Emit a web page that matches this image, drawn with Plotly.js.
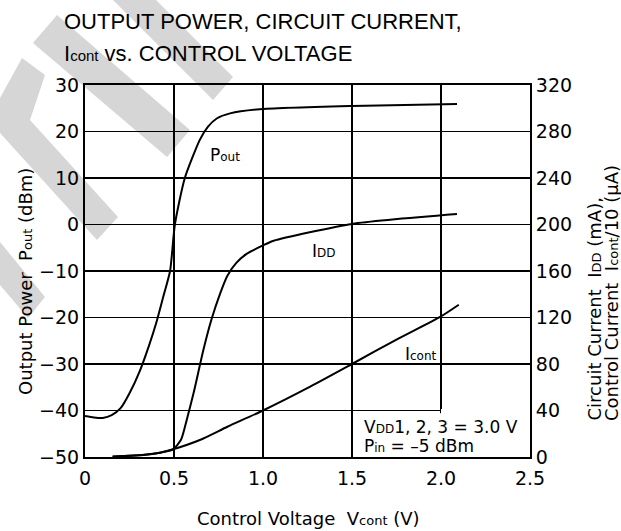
<!DOCTYPE html>
<html>
<head>
<meta charset="utf-8">
<script src="https://cdn.plot.ly/plotly-3.0.1.min.js"></script>
<style>html,body{margin:0;padding:0;background:#fff;}</style>
</head>
<body>
<div id="chart" style="width:621px;height:531px;"></div>
<script>
// ---- data ----
const poutX = [0, 0.05, 0.10, 0.15, 0.20, 0.25, 0.31, 0.36, 0.40, 0.44, 0.478, 0.505, 0.56, 0.645, 0.69, 0.74, 0.815, 0.98, 1.5, 2.09];
const poutY = [-41.2, -41.5, -41.6, -41.0, -39.5, -36.3, -31.3, -26.0, -21.2, -15.5, -10.0, 0.0, 9.9, 18.2, 21.0, 22.8, 23.9, 24.8, 25.5, 25.9];

const iddX = [0.155, 0.33, 0.42, 0.495, 0.54, 0.57, 0.61, 0.665, 0.71, 0.76, 0.80, 0.85, 0.91, 1.0, 1.06, 1.5, 2.09];
const iddY = [0.5, 1.8, 3.7, 6.6, 15, 31, 55, 92, 118, 141, 156, 167, 175, 182, 186, 200.5, 209];

const icontX = [0.155, 0.33, 0.42, 0.495, 0.645, 0.80, 1.0, 1.265, 1.5, 1.75, 2.0, 2.1];
const icontY = [0.3, 2.0, 3.7, 6.6, 14.6, 26, 40, 60.5, 80, 101, 121, 131];

const xTickVals = [0, 0.5, 1.0, 1.5, 2.0, 2.5];
const xTickText = ['0', '0.5', '1.0', '1.5', '2.0', '2.5'];
const yTickVals = [-50, -40, -30, -20, -10, 0, 10, 20, 30];
const y2TickVals = [0, 40, 80, 120, 160, 200, 240, 280, 320];

// ---- styling ----
const TFONT = 'Liberation Sans, Arial, sans-serif';
const FONT = 'DejaVu Sans, Verdana, sans-serif';
const PLOT = {l: 85, r: 530, t: 85, b: 457};
function px2paper(p) {
  return [(p[0] - PLOT.l) / (PLOT.r - PLOT.l), (PLOT.b - p[1]) / (PLOT.b - PLOT.t)];
}
function poly(points) {
  return 'M ' + points.map(p => px2paper(p).join(',')).join(' L ') + ' Z';
}
const bands = [
  [[57,15],[190,130],[167,157],[33,43]],
  [[113,0],[156,0],[233,77],[213,100]],
  [[22,58],[45,75],[30,120],[118,217],[97,240],[0,133],[0,98]],
  [[0,242],[45,297],[28,318],[0,285]]
];
const shapes = bands.map(b => ({
  type: 'path', xref: 'paper', yref: 'paper', path: poly(b),
  fillcolor: 'rgb(214,214,214)', line: {width: 0}, layer: 'below'
}));
// white patch behind the conditions note
shapes.push({type: 'rect', xref: 'x', yref: 'y', x0: 1.52, x1: 2.5, y0: -50, y1: -40.6,
  fillcolor: '#fff', line: {width: 0}, layer: 'between'});
shapes.push({type: 'rect', xref: 'x', yref: 'y', x0: 2.0, x1: 2.5, y0: -50, y1: -39.7,
  fillcolor: '#fff', line: {width: 0}, layer: 'between'});

const sub = (t, s) => '<span style="font-size:' + s + 'px">' + t + '</span>';
const SP2 = '\u00a0\u00a0';

const lineStyle = {color: '#000', width: 2, shape: 'spline', smoothing: 0.6};
const traces = [
  {x: poutX, y: poutY, mode: 'lines', line: lineStyle, yaxis: 'y', name: 'Pout', hoverinfo: 'skip'},
  {x: iddX, y: iddY, mode: 'lines', line: lineStyle, yaxis: 'y2', name: 'IDD', hoverinfo: 'skip'},
  {x: icontX, y: icontY, mode: 'lines', line: lineStyle, yaxis: 'y2', name: 'Icont', hoverinfo: 'skip'}
];

const tickFont = {family: FONT, size: 19, color: '#000'};
const txt = (s) => ({family: FONT, size: s, color: '#000'});
function paperAnn(text, p, opts) {
  const q = px2paper(p);
  return Object.assign({text: text, x: q[0], y: q[1], xref: 'paper', yref: 'paper', showarrow: false}, opts);
}
const layout = {
  width: 621, height: 531,
  margin: {l: 85, r: 91, t: 85, b: 74, pad: 0},
  paper_bgcolor: '#fff', plot_bgcolor: 'rgba(0,0,0,0)',
  showlegend: false,
  xaxis: {
    range: [0, 2.5], tickvals: xTickVals, ticktext: xTickText,
    showgrid: true, gridcolor: '#000', gridwidth: 1.2,
    showline: true, linecolor: '#000', linewidth: 2, mirror: true,
    ticks: '', tickfont: tickFont, zeroline: false, fixedrange: true,
    ticklabelstandoff: 3
  },
  yaxis: {
    range: [-50, 30], tickvals: yTickVals,
    showgrid: true, gridcolor: '#000', gridwidth: 1.2,
    showline: true, linecolor: '#000', linewidth: 2, mirror: true,
    ticks: '', tickfont: tickFont, zeroline: false, fixedrange: true
  },
  yaxis2: {
    range: [0, 320], tickvals: y2TickVals, overlaying: 'y', side: 'right',
    showgrid: false, showline: true, linecolor: '#000', linewidth: 2,
    ticks: '', tickfont: tickFont, zeroline: false, fixedrange: true
  },
  shapes: shapes,
  annotations: [
    paperAnn('OUTPUT POWER, CIRCUIT CURRENT,', [62, 22], {xanchor: 'left', yanchor: 'middle',
      font: {family: TFONT, size: 22, color: '#000'}}),
    paperAnn('I' + sub('cont', 15) + ' vs. CONTROL VOLTAGE', [62, 53], {xanchor: 'left', yanchor: 'middle',
      font: {family: TFONT, size: 22, color: '#000'}}),
    {text: 'P' + sub('out', 12), x: 0.69, y: 15, xref: 'x', yref: 'y', xanchor: 'left', yanchor: 'middle',
     showarrow: false, font: txt(17)},
    {text: 'I' + sub('DD', 12), x: 1.264, y: -5.8, xref: 'x', yref: 'y', xanchor: 'left', yanchor: 'middle',
     showarrow: false, font: txt(17)},
    {text: 'I' + sub('cont', 12), x: 1.787, y: -27.9, xref: 'x', yref: 'y', xanchor: 'left', yanchor: 'middle',
     showarrow: false, font: txt(17)},
    {text: 'V' + sub('DD', 12) + '1, 2, 3 = 3.0 V', x: 1.556, y: -43.6, xref: 'x', yref: 'y', xanchor: 'left', yanchor: 'middle',
     showarrow: false, font: txt(17)},
    {text: 'P' + sub('in', 12) + ' = \u20135 dBm', x: 1.556, y: -47.7, xref: 'x', yref: 'y', xanchor: 'left', yanchor: 'middle',
     showarrow: false, font: txt(17)},
    paperAnn('Control Voltage' + SP2 + 'V' + sub('cont', 13) + ' (V)', [308, 518], {xanchor: 'center', yanchor: 'middle', font: txt(18)}),
    paperAnn('Output Power' + SP2 + 'P' + sub('out', 13) + ' (dBm)', [25, 282], {xanchor: 'center', yanchor: 'middle', textangle: -90, font: txt(18)}),
    paperAnn('Circuit Current' + SP2 + 'I' + sub('DD', 13) + ' (mA),', [594, 423], {xanchor: 'center', yanchor: 'bottom', textangle: -90, font: txt(18)}),
    paperAnn('Control Current' + SP2 + 'I' + sub('cont', 13) + '/10 (\u03bcA)', [611, 423], {xanchor: 'center', yanchor: 'bottom', textangle: -90, font: txt(18)})
  ]
};

Plotly.newPlot('chart', traces, layout, {displayModeBar: false, staticPlot: true});
</script>
</body>
</html>
